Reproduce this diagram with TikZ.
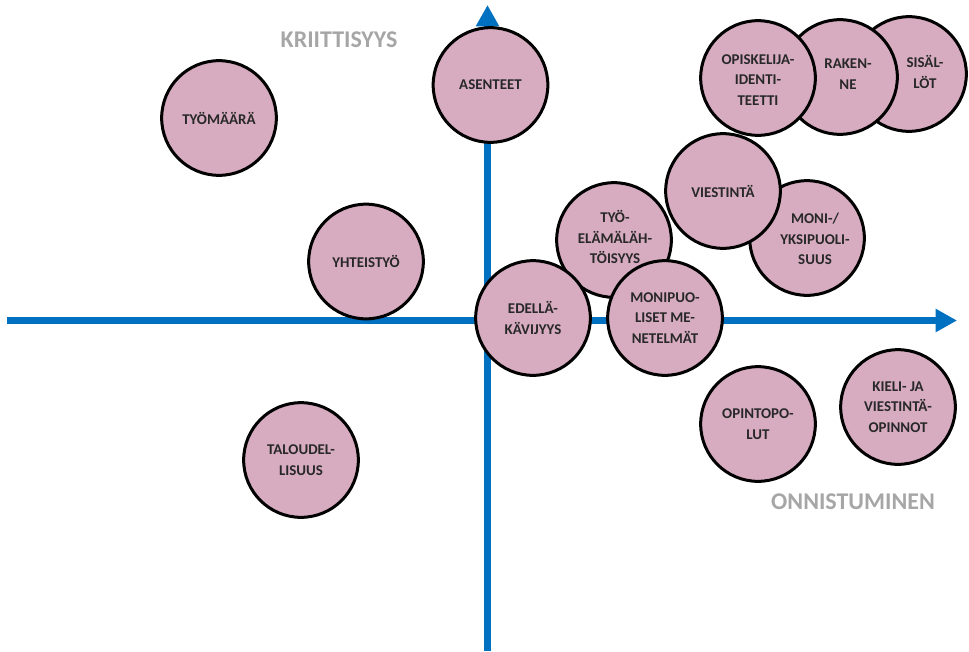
\documentclass[tikz,border=0pt]{standalone}
\usepackage{fontspec}
\setmainfont{Carlito}
\usetikzlibrary{arrows.meta}
\definecolor{bubblefill}{RGB}{215,172,192}
\definecolor{axisblue}{RGB}{0,112,192}
\definecolor{labelgray}{RGB}{166,166,166}
\definecolor{textdark}{RGB}{40,40,40}
\tikzset{
  bubble/.style={circle, draw=black, line width=2.25pt, fill=bubblefill,
    minimum size=86pt, inner sep=0pt},
  bubbletext/.style={align=center, text=textdark, inner sep=0pt,
    font=\bfseries\fontsize{11.2}{15.3}\selectfont},
  axisline/.style={draw=axisblue, line width=5.25pt,
    -{Triangle[length=16pt,width=16.5pt]}},
  axlabel/.style={text=labelgray, font=\bfseries\fontsize{18}{20}\selectfont, inner sep=0pt}
}
\begin{document}
\begin{tikzpicture}[x=0.75pt,y=-0.75pt]
\useasboundingbox (0,0) rectangle (969,651);
% axes
\coordinate (xstart) at (7,320.5);
\coordinate (xend) at (957,320.5);
\coordinate (ystart) at (487.5,651);
\coordinate (yend) at (487.5,5);
\draw[axisline] (xstart) -- (xend);
\draw[axisline] (ystart) -- (yend);
% axis labels
\node[axlabel] (krit) at (339,40) {KRIITTISYYS};
\node[axlabel] (onni) at (853,502) {ONNISTUMINEN};
% bubbles (drawing order matters for overlaps)
\node[bubble] (sisalot) at (909,74) {};
\node[bubble] (rakenne) at (840,77) {};
\node[bubble] (opisk) at (758,78) {};
\node[bubble] (moni) at (807,238) {};
\node[bubble] (viestinta) at (723,191) {};
\node[bubble] (tyoelama) at (614,240) {};
\node[bubble] (edella) at (533,318) {};
\node[bubble] (monipuol) at (665,318) {};
\node[bubble] (tyomaara) at (219,118) {};
\node[bubble] (asenteet) at (490.5,85) {};
\node[bubble] (yhteistyo) at (366,261.5) {};
\node[bubble] (talous) at (301,460) {};
\node[bubble] (opintopolut) at (758,424) {};
\node[bubble] (kieli) at (898,407) {};
% texts
\node[bubbletext] (t-sisalot) at ([shift={(16,-2)}]sisalot) {SISÄL-\\LÖT};
\node[bubbletext] (t-rakenne) at ([shift={(8,-3)}]rakenne) {RAKEN-\\NE};
\node[bubbletext] (t-opisk) at ([shift={(0,2)}]opisk) {OPISKELIJA-\\IDENTI-\\TEETTI};
\node[bubbletext] (t-moni) at ([shift={(8,1)}]moni) {MONI-/\\YKSIPUOLI-\\SUUS};
\node[bubbletext] (t-viestinta) at (viestinta) {VIESTINTÄ};
\node[bubbletext] (t-tyoelama) at ([shift={(1,-3)}]tyoelama) {TYÖ-\\ELÄMÄLÄH-\\TÖISYYS};
\node[bubbletext] (t-edella) at (edella) {EDELLÄ-\\KÄVIJYYS};
\node[bubbletext] (t-monipuol) at (monipuol) {MONIPUO-\\LISET ME-\\NETELMÄT};
\node[bubbletext] (t-tyomaara) at (tyomaara) {TYÖMÄÄRÄ};
\node[bubbletext] (t-asenteet) at (asenteet) {ASENTEET};
\node[bubbletext] (t-yhteistyo) at (yhteistyo) {YHTEISTYÖ};
\node[bubbletext] (t-talous) at (talous) {TALOUDEL-\\LISUUS};
\node[bubbletext] (t-opintopolut) at (opintopolut) {OPINTOPO-\\LUT};
\node[bubbletext] (t-kieli) at (kieli) {KIELI- JA\\VIESTINTÄ-\\OPINNOT};
\end{tikzpicture}
\end{document}
